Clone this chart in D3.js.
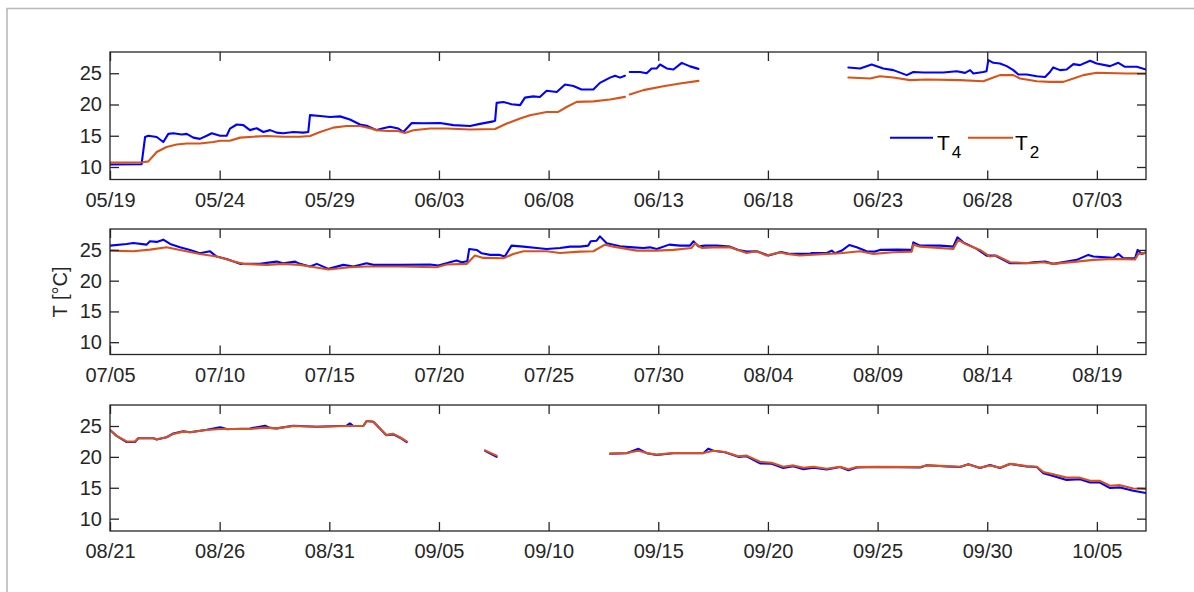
<!DOCTYPE html>
<html><head><meta charset="utf-8">
<script src="https://cdn.jsdelivr.net/npm/d3@7"></script>
<style>
html,body{margin:0;padding:0;background:#fff;}
svg{display:block;font-family:"Liberation Sans",Arial,Helvetica,sans-serif;}
</style></head>
<body><svg id="chart" width="1194" height="592"></svg>
<script>
// ---- data (day offset from panel start date, temperature °C); null = gap ----
const panelStarts = ["2017-05-19", "2017-07-05", "2017-08-21"];
const seriesNames = ["T4", "T2"];
const yTicks = [10, 15, 20, 25];

const p1T4 = [[0,10.4],[1.44,10.45],[1.6,14.8],[1.75,15.0],[2.13,14.8],[2.43,14.0],[2.66,15.3],[2.89,15.4],[3.27,15.2],[3.5,15.3],[3.8,14.7],[4.1,14.5],[4.41,15.0],[4.64,15.4],[5.02,15.0],[5.32,15.0],[5.47,16.15],[5.78,16.8],[6.08,16.7],[6.38,15.9],[6.69,16.2],[6.99,15.6],[7.3,15.9],[7.6,15.5],[7.9,15.4],[8.36,15.6],[8.81,15.5],[9.04,15.6],[9.12,18.3],[9.58,18.15],[10.03,18.0],[10.49,18.1],[10.94,17.6],[11.4,16.8],[11.7,16.6],[12.16,15.9],[12.46,16.2],[12.77,16.45],[13.15,16.15],[13.38,15.6],[13.76,17.05],[14.29,17.0],[15.05,17.05],[15.66,16.7],[16.42,16.55],[16.87,16.9],[17.48,17.3],[17.56,17.4],[17.63,20.26],[17.94,20.4],[18.31,20.05],[18.7,19.9],[18.92,21.1],[19.3,21.3],[19.6,21.2],[19.91,22.2],[20.37,22.0],[20.75,23.2],[21.13,22.95],[21.5,22.4],[22.04,22.4],[22.34,23.46],[22.8,24.3],[23.03,24.6],[23.26,24.3],[23.48,24.6],[23.6,null],[23.7,25.2],[24.17,25.2],[24.47,25.0],[24.7,25.77],[24.93,25.77],[25.08,26.4],[25.39,25.77],[25.69,25.6],[26.07,26.66],[26.45,26.1],[26.83,25.7],[30,null],[33.67,25.93],[34.2,25.77],[34.73,26.4],[35.26,25.77],[35.72,25.5],[36.33,24.7],[36.63,25.2],[37.09,25.13],[38.0,25.13],[38.61,25.33],[38.99,25.06],[39.22,25.5],[39.37,24.97],[39.82,25.2],[39.97,25.33],[40.05,27.1],[40.28,26.67],[40.58,26.57],[40.89,26.14],[41.19,25.5],[41.42,24.8],[41.8,24.8],[42.26,24.53],[42.64,24.4],[42.86,25.2],[43.01,25.93],[43.32,25.5],[43.62,25.6],[43.93,26.46],[44.23,26.3],[44.69,27.0],[44.99,26.57],[45.6,26.14],[45.98,26.67],[46.28,26.03],[46.82,26.03],[47.24,25.6]];
const p1T2 = [[0,10.7],[1.5,10.75],[1.75,10.9],[2.13,12.4],[2.58,13.2],[3.04,13.6],[3.5,13.75],[4.1,13.75],[4.71,14.0],[5.02,14.2],[5.47,14.2],[5.93,14.7],[6.54,14.85],[7.15,14.95],[7.9,14.85],[8.66,14.85],[9.12,14.95],[9.58,15.6],[10.18,16.3],[10.79,16.55],[11.4,16.55],[11.86,16.2],[12.16,15.9],[12.62,15.75],[13.07,15.8],[13.45,15.45],[13.83,15.88],[14.59,16.15],[15.35,16.15],[16.42,15.99],[17.56,16.09],[18.09,16.95],[18.7,17.75],[19.15,18.28],[19.91,18.81],[20.44,18.81],[20.82,19.6],[21.28,20.42],[22.04,20.5],[22.8,20.8],[23.48,21.22],[23.6,null],[23.7,21.6],[24.32,22.3],[25.23,22.93],[25.99,23.36],[26.83,23.78],[30,null],[33.67,24.32],[34.66,24.16],[35.11,24.53],[35.72,24.32],[36.48,23.9],[37.24,24.0],[38.76,23.9],[39.82,23.73],[40.28,24.32],[40.58,24.7],[41.19,24.7],[41.5,24.16],[42.26,23.73],[42.86,23.62],[43.47,23.62],[43.93,24.16],[44.38,24.7],[44.99,25.07],[46.36,24.97],[47.24,24.97]];

const p2T4 = [[0,25.7],[0.76,25.97],[1.06,26.13],[1.67,25.86],[1.82,26.4],[2.13,26.3],[2.43,26.67],[2.74,25.97],[3.19,25.42],[3.65,25.0],[4.1,24.45],[4.56,24.77],[4.86,23.92],[5.32,23.54],[5.93,22.73],[6.84,22.73],[7.15,22.9],[7.6,23.1],[7.9,22.83],[8.44,23.1],[8.66,22.73],[9.12,22.3],[9.43,22.73],[9.96,21.92],[10.64,22.57],[11.1,22.3],[11.7,22.83],[12.01,22.57],[13.22,22.57],[14.59,22.62],[14.97,22.46],[15.5,23.0],[15.8,23.27],[16.04,23.0],[16.29,23.16],[16.38,25.16],[16.72,25.0],[16.95,24.45],[17.33,24.19],[17.78,24.19],[18.0,23.92],[18.31,25.7],[18.85,25.53],[19.46,25.32],[19.91,25.16],[20.52,25.32],[20.98,25.53],[21.43,25.53],[21.81,25.7],[21.92,26.4],[22.19,26.5],[22.34,27.2],[22.65,26.07],[23.26,25.58],[23.86,25.42],[24.32,25.32],[24.62,25.42],[24.93,25.16],[25.5,25.86],[25.99,25.7],[26.45,25.7],[26.6,26.4],[26.83,25.58],[27.13,25.7],[27.66,25.7],[28.27,25.53],[28.65,25.0],[29.03,24.73],[29.49,24.78],[30.02,24.08],[30.6,24.65],[31.01,24.35],[31.92,24.35],[32.0,24.51],[32.68,24.51],[32.91,24.89],[33.06,24.46],[33.37,24.89],[33.71,25.8],[34.05,25.42],[34.5,24.78],[34.88,24.73],[35.11,25.0],[35.87,25.05],[36.56,25.0],[36.63,26.23],[36.94,25.7],[37.85,25.7],[38.45,25.53],[38.64,27.04],[38.91,26.23],[39.52,25.16],[39.97,24.08],[40.36,24.08],[41.04,22.83],[41.8,22.83],[42.1,23.0],[42.64,23.1],[43.01,22.73],[43.62,23.1],[44.08,23.38],[44.61,24.19],[44.84,23.92],[45.75,23.7],[45.98,24.35],[46.21,23.64],[46.74,23.64],[46.86,25.0],[47.04,24.35],[47.24,24.62]];
const p2T2 = [[0,24.89],[1.06,24.78],[1.82,25.05],[2.58,25.42],[3.19,25.0],[4.1,24.35],[4.86,23.92],[5.62,23.16],[6.08,22.73],[7.15,22.57],[7.9,22.73],[8.66,22.57],[9.12,22.3],[9.96,21.81],[10.94,22.19],[11.7,22.3],[13.22,22.3],[14.9,22.19],[15.35,22.62],[16.26,22.73],[16.64,24.08],[17.02,23.7],[17.94,23.64],[18.39,24.35],[18.85,24.78],[19.91,24.78],[20.52,24.51],[21.43,24.73],[22.04,24.78],[22.57,25.86],[22.95,25.53],[24.02,24.89],[24.93,24.89],[25.69,25.0],[26.52,25.32],[26.68,26.07],[26.98,25.32],[27.51,25.42],[28.27,25.42],[29.03,24.51],[29.49,24.78],[29.94,24.08],[30.55,24.62],[30.86,24.35],[31.46,24.08],[32.68,24.35],[33.3,24.46],[34.2,24.78],[34.81,24.35],[35.72,24.62],[36.56,24.73],[36.63,25.86],[36.94,25.53],[38.45,25.16],[38.68,26.62],[39.06,25.86],[39.67,25.0],[40.13,23.92],[40.43,24.08],[41.04,23.0],[41.95,22.83],[42.56,23.0],[43.01,22.73],[44.08,23.1],[44.84,23.38],[45.75,23.54],[46.74,23.43],[46.89,24.35],[47.24,24.51]];

const p3T4 = [[0,24.36],[0.3,23.4],[0.76,22.4],[1.14,22.4],[1.29,23.02],[1.98,23.02],[2.13,22.8],[2.58,23.18],[2.89,23.8],[3.34,24.15],[3.65,24.0],[4.41,24.4],[5.02,24.8],[5.32,24.5],[5.62,24.52],[6.38,24.6],[7.07,25.05],[7.3,24.7],[7.6,24.62],[8.36,25.05],[9.43,24.89],[10.79,25.05],[10.94,25.41],[11.1,25.0],[11.55,25.0],[11.7,25.8],[12.01,25.7],[12.6,23.5],[12.92,23.65],[13.22,23.1],[13.53,22.4],[15,null],[17.1,21.0],[17.63,20.0],[20,null],[22.8,20.5],[23.56,20.6],[24.1,21.3],[24.47,20.6],[24.93,20.3],[25.69,20.6],[27.05,20.6],[27.28,21.33],[27.51,21.0],[28.04,20.75],[28.65,20.0],[29.03,20.1],[29.64,18.95],[30.17,18.9],[30.7,18.2],[31.16,18.5],[31.62,18.0],[32.07,18.25],[32.68,17.95],[33.29,18.35],[33.67,17.85],[34.05,18.3],[34.96,18.35],[36.94,18.3],[37.24,18.65],[38.15,18.45],[38.76,18.35],[39.14,18.8],[39.67,18.2],[40.13,18.7],[40.58,18.2],[41.04,18.85],[41.8,18.45],[42.26,18.35],[42.56,17.34],[43.01,16.92],[43.62,16.27],[44.23,16.38],[44.69,15.85],[45.14,15.85],[45.6,14.95],[46.06,15.06],[46.66,14.52],[47.24,14.15]];
const p3T2 = [[0,24.36],[0.3,23.4],[0.76,22.5],[1.14,22.5],[1.29,23.02],[1.98,23.02],[2.13,22.86],[2.58,23.18],[2.89,23.72],[3.34,24.09],[3.65,23.98],[4.41,24.36],[5.02,24.52],[5.62,24.52],[6.38,24.52],[7.07,24.73],[7.6,24.62],[8.36,25.0],[9.43,24.89],[10.79,25.0],[11.55,25.0],[11.7,25.8],[12.01,25.7],[12.6,23.56],[12.92,23.72],[13.22,23.18],[13.53,22.5],[15,null],[17.1,21.06],[17.63,20.2],[20,null],[22.8,20.53],[23.56,20.63],[24.1,21.0],[24.47,20.63],[24.93,20.37],[25.69,20.63],[27.05,20.63],[27.28,20.8],[27.51,21.0],[28.04,20.8],[28.65,20.1],[29.03,20.2],[29.64,19.2],[30.17,19.04],[30.7,18.4],[31.16,18.62],[31.62,18.24],[32.07,18.4],[32.68,18.08],[33.29,18.4],[33.67,17.98],[34.05,18.35],[34.96,18.4],[36.94,18.35],[37.24,18.62],[38.15,18.5],[38.76,18.4],[39.14,18.78],[39.67,18.24],[40.13,18.62],[40.58,18.24],[41.04,18.88],[41.8,18.5],[42.26,18.4],[42.56,17.55],[43.01,17.18],[43.62,16.64],[44.23,16.64],[44.69,16.12],[45.14,16.12],[45.6,15.32],[46.06,15.42],[46.66,14.89],[47.24,14.79]];

const panelT4 = [p1T4, p2T4, p3T4];
const panelT2 = [p1T2, p2T2, p3T2];

// ---- layout ----
const spanDays = 47.24;
const left = 110, right = 1146;
const boxes = [{top:52, bottom:179.5}, {top:229, bottom:354.5}, {top:405, bottom:531}];
const colors = {T4:"#0000FF", T2:"#D95319"};
const axisColor = "#262626";
const fontSize = 20;
const DAY = 86400000;

const svg = d3.select("#chart");
svg.append("rect").attr("width",1194).attr("height",592).attr("fill","#fff");
// outer figure frame
svg.append("path").attr("d","M7,592V8.5H1194").attr("fill","none").attr("stroke","#b9b9b9").attr("stroke-width",1.6);

const fmt = d3.utcFormat("%m/%d");

boxes.forEach((b, i) => {
  const start = new Date(panelStarts[i] + "T00:00:00Z");
  const end = new Date(+start + spanDays*DAY);
  const x = d3.scaleUtc().domain([start, end]).range([left, right]);
  const y = d3.scaleLinear().domain([8, 28.4]).range([b.bottom, b.top]);
  const xt = d3.range(0, 46, 5).map(k => new Date(+start + k*DAY));
  const g = svg.append("g");

  const clipId = "clip"+i;
  svg.append("clipPath").attr("id", clipId).append("rect")
    .attr("x", left).attr("y", b.top).attr("width", right-left).attr("height", b.bottom-b.top);

  const line = d3.line()
    .defined(d => d[1] !== null)
    .x(d => x(new Date(+start + d[0]*DAY)))
    .y(d => y(d[1]));

  const lines = g.append("g").attr("clip-path", `url(#${clipId})`);
  [[panelT4[i], colors.T4], [panelT2[i], colors.T2]].forEach(([data, c]) => {
    lines.append("path").datum(data).attr("d", line)
      .attr("fill","none").attr("stroke", c).attr("stroke-width", 2.1)
      .attr("stroke-linejoin","round").attr("stroke-linecap","round");
  });

  const styleAxis = sel => {
    sel.select(".domain").remove();
    sel.selectAll(".tick line").attr("stroke", axisColor).attr("stroke-width", 1.3);
    sel.selectAll(".tick text").attr("fill", axisColor).style("font-size", fontSize+"px")
      .style("font-family", '"Liberation Sans",Arial,sans-serif');
  };

  g.append("g").attr("transform", `translate(0,${b.bottom})`)
    .call(d3.axisBottom(x).tickValues(xt).tickFormat(fmt).tickSize(-9).tickPadding(13))
    .call(styleAxis);
  g.append("g").attr("transform", `translate(0,${b.top})`)
    .call(d3.axisTop(x).tickValues(xt).tickFormat("").tickSize(-9))
    .call(styleAxis);
  g.append("g").attr("transform", `translate(${left},0)`)
    .call(d3.axisLeft(y).tickValues(yTicks).tickFormat(d3.format("d")).tickSize(-9).tickPadding(8))
    .call(styleAxis);
  g.append("g").attr("transform", `translate(${right},0)`)
    .call(d3.axisRight(y).tickValues(yTicks).tickFormat("").tickSize(-9))
    .call(styleAxis);

  g.append("rect").attr("x", left).attr("y", b.top).attr("width", right-left).attr("height", b.bottom-b.top)
    .attr("fill","none").attr("stroke", axisColor).attr("stroke-width", 1.3);
});

// y label
svg.append("text").attr("transform", "translate(67,292) rotate(-90)")
  .attr("text-anchor","middle").attr("fill", axisColor).style("font-size", fontSize+"px")
  .text("T [°C]");

// legend
const legend = svg.append("g");
const legItems = [{name:"T4", base:"T", sub:"4", x1:890, x2:933, tx:937}, {name:"T2", base:"T", sub:"2", x1:968, x2:1013, tx:1015}];
legItems.forEach(it => {
  legend.append("line").attr("x1", it.x1).attr("x2", it.x2).attr("y1", 137.7).attr("y2", 137.7)
    .attr("stroke", colors[it.name]).attr("stroke-width", 2);
  const t = legend.append("text").attr("x", it.tx).attr("y", 149.5).attr("fill", "#000").style("font-size","21px");
  t.append("tspan").text(it.base);
  t.append("tspan").attr("dx", 2).attr("dy", 8).style("font-size","17px").text(it.sub);
});
</script>
</body></html>
